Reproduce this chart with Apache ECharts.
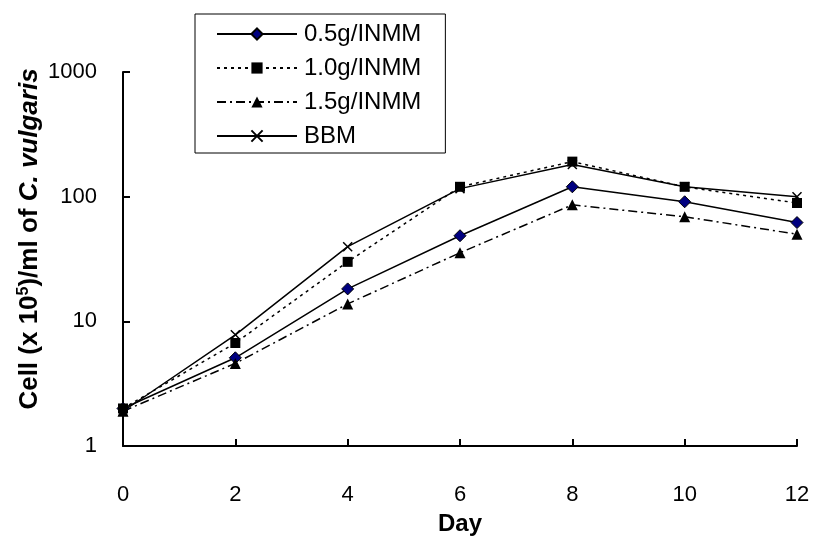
<!DOCTYPE html>
<html>
<head>
<meta charset="utf-8">
<script src="https://cdn.jsdelivr.net/npm/echarts@6/dist/echarts.min.js"></script>
<style>html,body{margin:0;padding:0;background:#fff;}#c{width:814px;height:541px;}</style>
</head>
<body>
<div id="c"></div>
<script>
var days = [0, 2, 4, 6, 8, 10, 12];
var seriesNames = ['0.5g/INMM', '1.0g/INMM', '1.5g/INMM', 'BBM'];
var v05 = [2.0, 5.1, 18.2, 48.6, 120, 91, 62];
var v10 = [2.0, 6.7, 30, 120, 191, 120, 89];
var v15 = [1.9, 4.6, 13.8, 35.5, 86, 69, 50];
var vBBM = [1.9, 7.8, 39.7, 116, 181, 120, 100];
var yTicks = [1, 10, 100, 1000];

function pairs(vals) { return days.map(function (d, i) { return [d, vals[i]]; }); }

var FONT = '"Liberation Sans", Arial, sans-serif';
var chart = echarts.init(document.getElementById('c'));
chart.setOption({
  animation: false,
  backgroundColor: '#fff',
  textStyle: { fontFamily: FONT },
  grid: { left: 123, right: 17, top: 72, bottom: 95, containLabel: false },
  legend: {
    orient: 'vertical',
    left: 195, top: 14,
    padding: [8, 24, 5, 21],
    itemWidth: 80, itemHeight: 14, itemGap: 10,
    borderColor: '#000', borderWidth: 1,
    textStyle: { fontSize: 24, color: '#000', fontFamily: FONT, padding: [0, 0, 0, 2] },
    data: seriesNames
  },
  xAxis: {
    type: 'value', min: 0, max: 12, interval: 2,
    name: 'Day', nameLocation: 'middle', nameGap: 66,
    nameTextStyle: { fontSize: 24, fontWeight: 'bold', color: '#000', fontFamily: FONT },
    axisLine: { lineStyle: { color: '#000', width: 2 } },
    axisTick: { inside: true, length: 7, lineStyle: { color: '#000', width: 2 } },
    axisLabel: { fontSize: 22, color: '#000', margin: 38, fontFamily: FONT },
    splitLine: { show: false }
  },
  yAxis: {
    type: 'log', logBase: 10, min: yTicks[0], max: yTicks[yTicks.length - 1],
    axisLine: { show: true, lineStyle: { color: '#000', width: 2 } },
    axisTick: { show: true, inside: true, length: 7, lineStyle: { color: '#000', width: 2 } },
    axisLabel: { fontSize: 22, color: '#000', margin: 26, fontFamily: FONT,
      formatter: function (v) { return String(Math.round(v)); } },
    minorTick: { show: false },
    splitLine: { show: false }
  },
  graphic: [{
    type: 'text',
    x: 30, y: 239,
    rotation: Math.PI / 2,
    style: {
      text: '{b|Cell (x 10}{s|5}{b|)/ml of }{i|C. vulgaris}',
      align: 'center', verticalAlign: 'middle',
      rich: {
        b: { fontSize: 26, fontWeight: 'bold', fontFamily: FONT, fill: '#000' },
        s: { fontSize: 16, fontWeight: 'bold', fontFamily: FONT, fill: '#000', padding: [0, 0, 12, 0] },
        i: { fontSize: 26, fontWeight: 'bold', fontStyle: 'italic', fontFamily: FONT, fill: '#000' }
      }
    }
  }],
  series: [
    {
      name: seriesNames[0], type: 'line', data: pairs(v05),
      symbol: 'diamond', symbolSize: 12,
      lineStyle: { color: '#000', width: 1.5, type: 'solid' },
      itemStyle: { color: '#000080', borderColor: '#000', borderWidth: 1 }
    },
    {
      name: seriesNames[1], type: 'line', data: pairs(v10),
      symbol: 'rect', symbolSize: 10,
      lineStyle: { color: '#000', width: 1.5, type: [3, 4] },
      itemStyle: { color: '#000', borderColor: '#000', borderWidth: 0 }
    },
    {
      name: seriesNames[2], type: 'line', data: pairs(v15),
      symbol: 'triangle', symbolSize: 11,
      lineStyle: { color: '#000', width: 1.5, type: [9, 4, 2, 4] },
      itemStyle: { color: '#000', borderColor: '#000', borderWidth: 0 }
    },
    {
      name: seriesNames[3], type: 'line', data: pairs(vBBM),
      symbol: 'path://M0,0L10,10M0,10L10,0', symbolSize: 9,
      lineStyle: { color: '#000', width: 1.5, type: 'solid' },
      itemStyle: { color: 'none', borderColor: '#000', borderWidth: 1.5 }
    }
  ]
});
</script>
</body>
</html>
